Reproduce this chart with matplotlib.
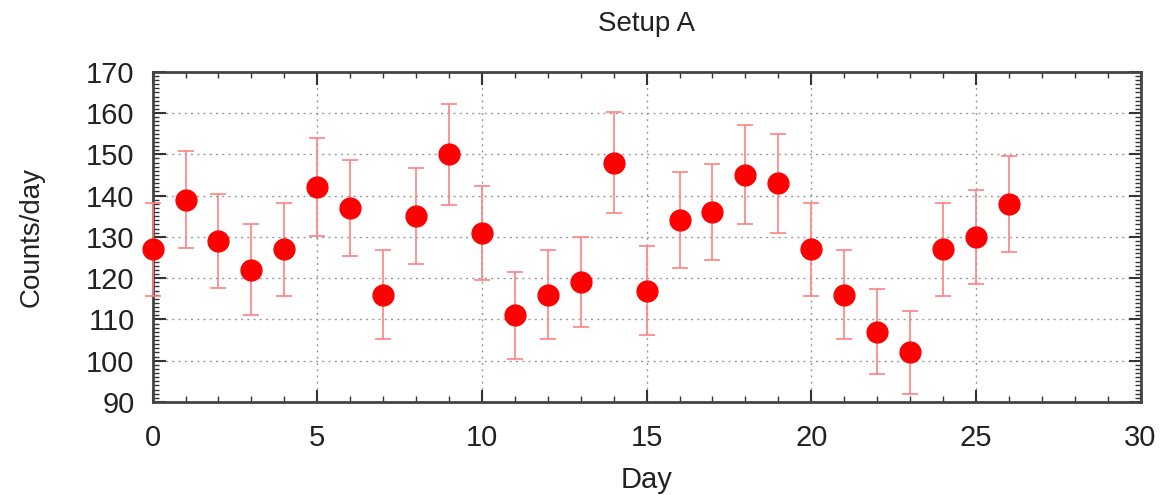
import matplotlib
matplotlib.use('Agg')
import matplotlib.pyplot as plt
from matplotlib.ticker import MultipleLocator

plt.rcParams['font.family'] = ['Liberation Sans', 'DejaVu Sans']

days = list(range(27))
counts = [127, 139, 129, 122, 127, 142, 137, 116, 135, 150, 131, 111, 116, 119,
          148, 117, 134, 136, 145, 143, 127, 116, 107, 102, 127, 130, 138]
errors = [11.3, 11.8, 11.4, 11.0, 11.3, 11.9, 11.7, 10.8, 11.6, 12.2, 11.4, 10.5,
          10.8, 10.9, 12.2, 10.8, 11.6, 11.7, 12.0, 12.0, 11.3, 10.8, 10.3, 10.1,
          11.3, 11.4, 11.7]

fig = plt.figure(figsize=(11.65, 4.95), dpi=100)
ax = fig.add_axes([0.131, 0.188, 0.848, 0.667])

ax.errorbar(days, counts, yerr=errors, fmt='none', ecolor='#ff8080',
            elinewidth=1.2, capsize=6, capthick=1.2, clip_on=False, zorder=3)
ax.plot(days, counts, 'o', color='#ff0000', markersize=15, clip_on=False, zorder=4)

ax.set_xlim(0, 30)
ax.set_ylim(90, 170)
ax.xaxis.set_major_locator(MultipleLocator(5))
ax.xaxis.set_minor_locator(MultipleLocator(1))
ax.yaxis.set_major_locator(MultipleLocator(10))
ax.yaxis.set_minor_locator(MultipleLocator(1))

ax.grid(True, which='major', linestyle=(0, (1.5, 3)), color='#999999', linewidth=1)
ax.tick_params(which='both', direction='in', top=True, right=True,
               color='#333333', labelsize=21, labelcolor='#222222')
ax.tick_params(axis='y', which='major', length=9, width=1.5, pad=13)
ax.tick_params(axis='x', which='major', length=9, width=1.5, pad=16)
ax.tick_params(which='minor', length=4, width=1)
for s in ax.spines.values():
    s.set_linewidth(2)
    s.set_color('#444444')

ax.set_title('Setup A', fontsize=20, pad=29, color='#222222')
ax.set_xlabel('Day', fontsize=21, labelpad=10, color='#222222')
ax.set_ylabel('Counts/day', fontsize=20, labelpad=30, color='#222222')

plt.savefig('out.png', dpi=100)
plt.close()
